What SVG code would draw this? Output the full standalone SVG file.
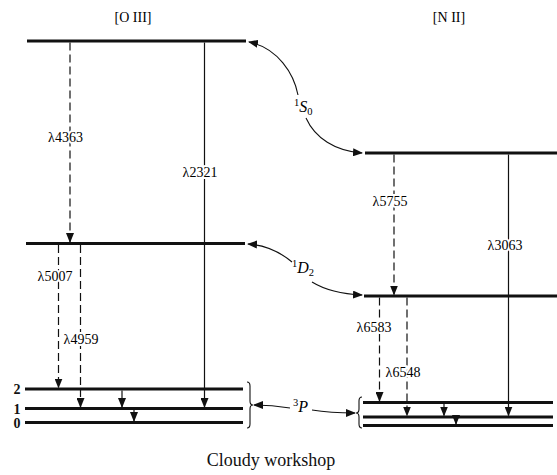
<svg xmlns="http://www.w3.org/2000/svg" width="557" height="475" viewBox="0 0 557 475">
<style>
.lvl{stroke:#111;stroke-width:3;fill:none}
.tr{stroke:#111;stroke-width:1.2;fill:none}
.dash{stroke-dasharray:8 4}
.cv{stroke:#111;stroke-width:1.1;fill:none}
.lab{font-family:"Liberation Serif",serif;font-size:14px;fill:#000;stroke:#fff;stroke-width:4;paint-order:stroke;stroke-linejoin:round}
.hd{font-family:"Liberation Serif",serif;font-size:14px;fill:#000}
.num{font-family:"Liberation Serif",serif;font-size:14px;font-weight:bold;fill:#111}
.term{font-family:"Liberation Serif",serif;font-size:16px;font-style:italic;fill:#000}
.sup{font-family:"Liberation Serif",serif;font-size:10.5px;fill:#000}
</style>
<defs>
<marker id="ah" markerWidth="10" markerHeight="8" refX="9" refY="4" orient="auto" markerUnits="userSpaceOnUse">
<path d="M0,0 L10,4 L0,8 Z" fill="#111"/>
</marker>
</defs>
<rect width="557" height="475" fill="#fff"/>
<g id="oiii">
<text class="hd" x="133" y="22" text-anchor="middle">[O III]</text>
<line id="oiii-S0" class="lvl" x1="27" y1="41" x2="246" y2="41"/>
<line id="oiii-D2" class="lvl" x1="26" y1="243.5" x2="245" y2="243.5"/>
<line id="oiii-P2" class="lvl" x1="25" y1="389" x2="243" y2="389"/>
<line id="oiii-P1" class="lvl" x1="25" y1="408.5" x2="243" y2="408.5"/>
<line id="oiii-P0" class="lvl" x1="25" y1="422.5" x2="243" y2="422.5"/>
<text class="num" x="17" y="394" text-anchor="middle">2</text>
<text class="num" x="17" y="413.5" text-anchor="middle">1</text>
<text class="num" x="17" y="427.5" text-anchor="middle">0</text>
<path d="M247,382 Q250,382 250,386 L250,401 Q250,405 253,405 Q250,405 250,409 L250,424 Q250,428 247,428" class="cv"/>
</g>
<g id="nii">
<text class="hd" x="449" y="22" text-anchor="middle">[N II]</text>
<line id="nii-S0" class="lvl" x1="365" y1="153" x2="557" y2="153"/>
<line id="nii-D2" class="lvl" x1="364" y1="296" x2="557" y2="296"/>
<line id="nii-P2" class="lvl" x1="363" y1="402.5" x2="553" y2="402.5"/>
<line id="nii-P1" class="lvl" x1="363" y1="417" x2="553" y2="417"/>
<line id="nii-P0" class="lvl" x1="363" y1="425.5" x2="553" y2="425.5"/>
<path d="M362,397 Q359,397 359,401 L359,409 Q359,413 356,413 Q359,413 359,417 L359,424 Q359,428 362,428" class="cv"/>
</g>
<g id="terms">
<text x="294" y="112"><tspan class="sup" dy="-6">1</tspan><tspan class="term" dy="6">S</tspan><tspan class="sup" dy="3">0</tspan></text>
<text x="292" y="273"><tspan class="sup" dy="-6">1</tspan><tspan class="term" dy="6">D</tspan><tspan class="sup" dy="3">2</tspan></text>
<text x="293" y="412"><tspan class="sup" dy="-6">3</tspan><tspan class="term" dy="6">P</tspan></text>
</g>
<g id="connectors">
<line class="tr dash" x1="70" y1="42.5" x2="70" y2="242" marker-end="url(#ah)"/>
<line class="tr" x1="204.5" y1="42.5" x2="204.5" y2="407" marker-end="url(#ah)"/>
<line class="tr dash" x1="58.5" y1="245" x2="58.5" y2="387.5" marker-end="url(#ah)"/>
<line class="tr dash" x1="80.5" y1="245" x2="80.5" y2="407" marker-end="url(#ah)"/>
<line class="tr" x1="122" y1="390.5" x2="122" y2="407" marker-end="url(#ah)"/>
<line class="tr" x1="134" y1="410" x2="134" y2="421" marker-end="url(#ah)"/>
<line class="tr dash" x1="394" y1="154.5" x2="394" y2="294.5" marker-end="url(#ah)"/>
<line class="tr" x1="508.5" y1="154.5" x2="508.5" y2="415.5" marker-end="url(#ah)"/>
<line class="tr dash" x1="379.5" y1="297.5" x2="379.5" y2="401" marker-end="url(#ah)"/>
<line class="tr dash" x1="407" y1="297.5" x2="407" y2="415.5" marker-end="url(#ah)"/>
<line class="tr" x1="444" y1="404" x2="444" y2="415.5" marker-end="url(#ah)"/>
<line class="tr" x1="456" y1="418.5" x2="456" y2="424" marker-end="url(#ah)"/>
<path class="cv" d="M298,95 C294,74 278,48 249,42" marker-end="url(#ah)"/>
<path class="cv" d="M306,118 C315,138 335,151 362,153" marker-end="url(#ah)"/>
<path class="cv" d="M292,262 C280,252 265,245 248,244" marker-end="url(#ah)"/>
<path class="cv" d="M312,282 C325,290 340,294 362,295" marker-end="url(#ah)"/>
<path class="cv" d="M290,408 Q272,405 254,405" marker-end="url(#ah)"/>
<path class="cv" d="M312,410 Q330,413 355,413" marker-end="url(#ah)"/>
</g>
<g id="labels">
<text class="lab" x="65.5" y="141.5" text-anchor="middle">λ4363</text>
<text class="lab" x="200" y="176.5" text-anchor="middle">λ2321</text>
<text class="lab" x="55" y="280.5" text-anchor="middle">λ5007</text>
<text class="lab" x="81" y="343.5" text-anchor="middle">λ4959</text>
<text class="lab" x="390" y="206" text-anchor="middle">λ5755</text>
<text class="lab" x="505" y="249.5" text-anchor="middle">λ3063</text>
<text class="lab" x="374" y="331.5" text-anchor="middle">λ6583</text>
<text class="lab" x="403" y="376.5" text-anchor="middle">λ6548</text>
</g>
<text x="271" y="466" text-anchor="middle" font-family="Liberation Serif, serif" font-size="18" fill="#111">Cloudy workshop</text>
</svg>
